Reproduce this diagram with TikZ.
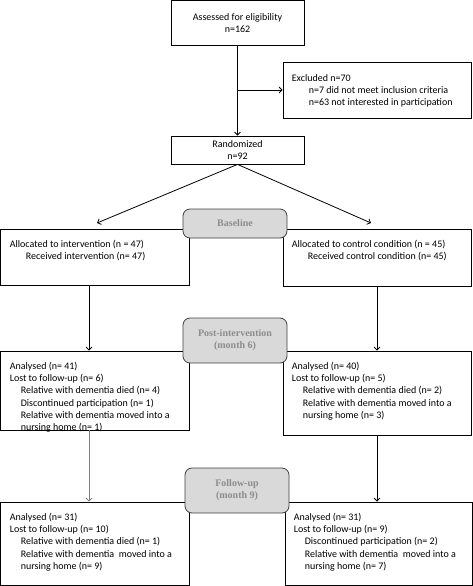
\documentclass[tikz,border=0pt]{standalone}
\usepackage{fontspec}
\setmainfont{Carlito}
\newfontfamily\phasefont{Liberation Serif}
\usetikzlibrary{positioning,calc,arrows.meta}

\begin{document}
\begin{tikzpicture}[x=1pt, y=-1pt,
        box/.style={rectangle, draw, line width=0.8pt, inner sep=0pt},
        cbox/.style={box, align=center, font=\fontsize{10}{12.2}\selectfont},
        txt/.style={anchor=north west, align=left, inner sep=0pt, font=\fontsize{10}{12.3}\selectfont},
        phase/.style={rectangle, rounded corners=7pt, draw=black!75, line width=0.8pt, fill=black!15,
            text=black!45, align=center, minimum width=104pt,
            font=\phasefont\bfseries\fontsize{10}{12}\selectfont},
        arr/.style={line width=0.8pt, -{Straight Barb[length=3pt,width=6pt]}},
    ]

    \useasboundingbox (0, 0) rectangle (473, 586);

    % enrolment
    \node[cbox, minimum width=133pt, minimum height=44.5pt] (assess) at (237.5, 22.75) {Assessed for eligibility\\n=162};
    \node[box, minimum width=188pt, minimum height=56pt] (excl) at (377, 90) {};
    \node[txt] (excltxt) at ($ (excl.north west) + (9, 12.5) $) {Excluded n=70\\
        \hspace*{17pt}n=7 did not meet inclusion criteria\\
        \hspace*{17pt}n=63 not interested in participation};
    \node[cbox, minimum width=133pt, minimum height=28pt] (rand) at (237.5, 150) {Randomized\\n=92};

    \coordinate (split) at (assess.south |- excl.west);
    \draw[arr] (assess) -- (rand);
    \draw[arr] (split) -- (excl);

    % allocation
    \coordinate (toI) at (97, 223);
    \coordinate (toC) at (371, 223);
    \draw[arr] (rand.south) -- (toI);
    \draw[arr] (rand.south) -- (toC);

    \node[box, minimum width=188.5pt, minimum height=56pt] (allocI) at (94.75, 257) {};
    \node[txt] (allocItxt) at ($ (allocI.north west) + (9.5, 11.5) $) {Allocated to intervention (n = 47)\\
        \hspace*{16pt}Received intervention (n= 47)};
    \node[box, minimum width=188pt, minimum height=57pt] (allocC) at (377, 257.5) {};
    \node[txt] (allocCtxt) at ($ (allocC.north west) + (9, 11.5) $) {Allocated to control condition (n = 45)\\
        \hspace*{16pt}Received control condition (n= 45)};

    % post-intervention
    \node[box, minimum width=188.5pt, minimum height=79pt] (postI) at (94.75, 390.5) {};
    \node[txt] (postItxt) at ($ (postI.north west) + (9.5, 11) $) {Analysed (n= 41)\\
        Lost to follow-up (n= 6)\\
        \hspace*{11pt}Relative with dementia died (n= 4)\\
        \hspace*{11pt}Discontinued participation (n= 1)\\
        \hspace*{11pt}Relative with dementia moved into a\\
        \hspace*{11pt}nursing home (n= 1)};
    \node[box, minimum width=188pt, minimum height=84pt] (postC) at (377, 393) {};
    \node[txt] (postCtxt) at ($ (postC.north west) + (9, 11) $) {Analysed (n= 40)\\
        Lost to follow-up (n= 5)\\
        \hspace*{11pt}Relative with dementia died (n= 2)\\
        \hspace*{11pt}Relative with dementia moved into a\\
        \hspace*{11pt}nursing home (n= 3)};

    % follow-up
    \node[box, minimum width=188.5pt, minimum height=83pt] (fuI) at (94.75, 543.5) {};
    \node[txt] (fuItxt) at ($ (fuI.north west) + (9.5, 11) $) {Analysed (n= 31)\\
        Lost to follow-up (n= 10)\\
        \hspace*{11pt}Relative with dementia died (n= 1)\\
        \hspace*{11pt}Relative with dementia~ moved into a\\
        \hspace*{11pt}nursing home (n= 9)};
    \node[box, minimum width=187pt, minimum height=83pt] (fuC) at (378.5, 543.5) {};
    \node[txt] (fuCtxt) at ($ (fuC.north west) + (9, 11) $) {Analysed (n= 31)\\
        Lost to follow-up (n= 9)\\
        \hspace*{11pt}Discontinued participation (n= 2)\\
        \hspace*{11pt}Relative with dementia~ moved into a\\
        \hspace*{11pt}nursing home (n= 7)};

    % columns
    \coordinate (colL) at (89, 0);
    \coordinate (colR) at (377, 0);
    \draw[arr] (allocI.south -| colL) -- (postI.north -| colL);
    \draw[arr] (allocC.south -| colR) -- (postC.north -| colR);
    \draw[arr, draw=black!50] (postI.south -| colL) -- (fuI.north -| colL);
    \draw[arr] (postC.south -| colR) -- (fuC.north -| colR);

    % phases
    \node[phase, minimum height=29pt] (base) at (235, 223.5) {Baseline};
    \node[phase, minimum height=45pt] (post) at (235, 340.5) {Post-intervention\\(month 6)};
    \node[phase, minimum height=45pt] (fu) at (237, 490.5) {Follow-up\\(month 9)};
\end{tikzpicture}
\end{document}
